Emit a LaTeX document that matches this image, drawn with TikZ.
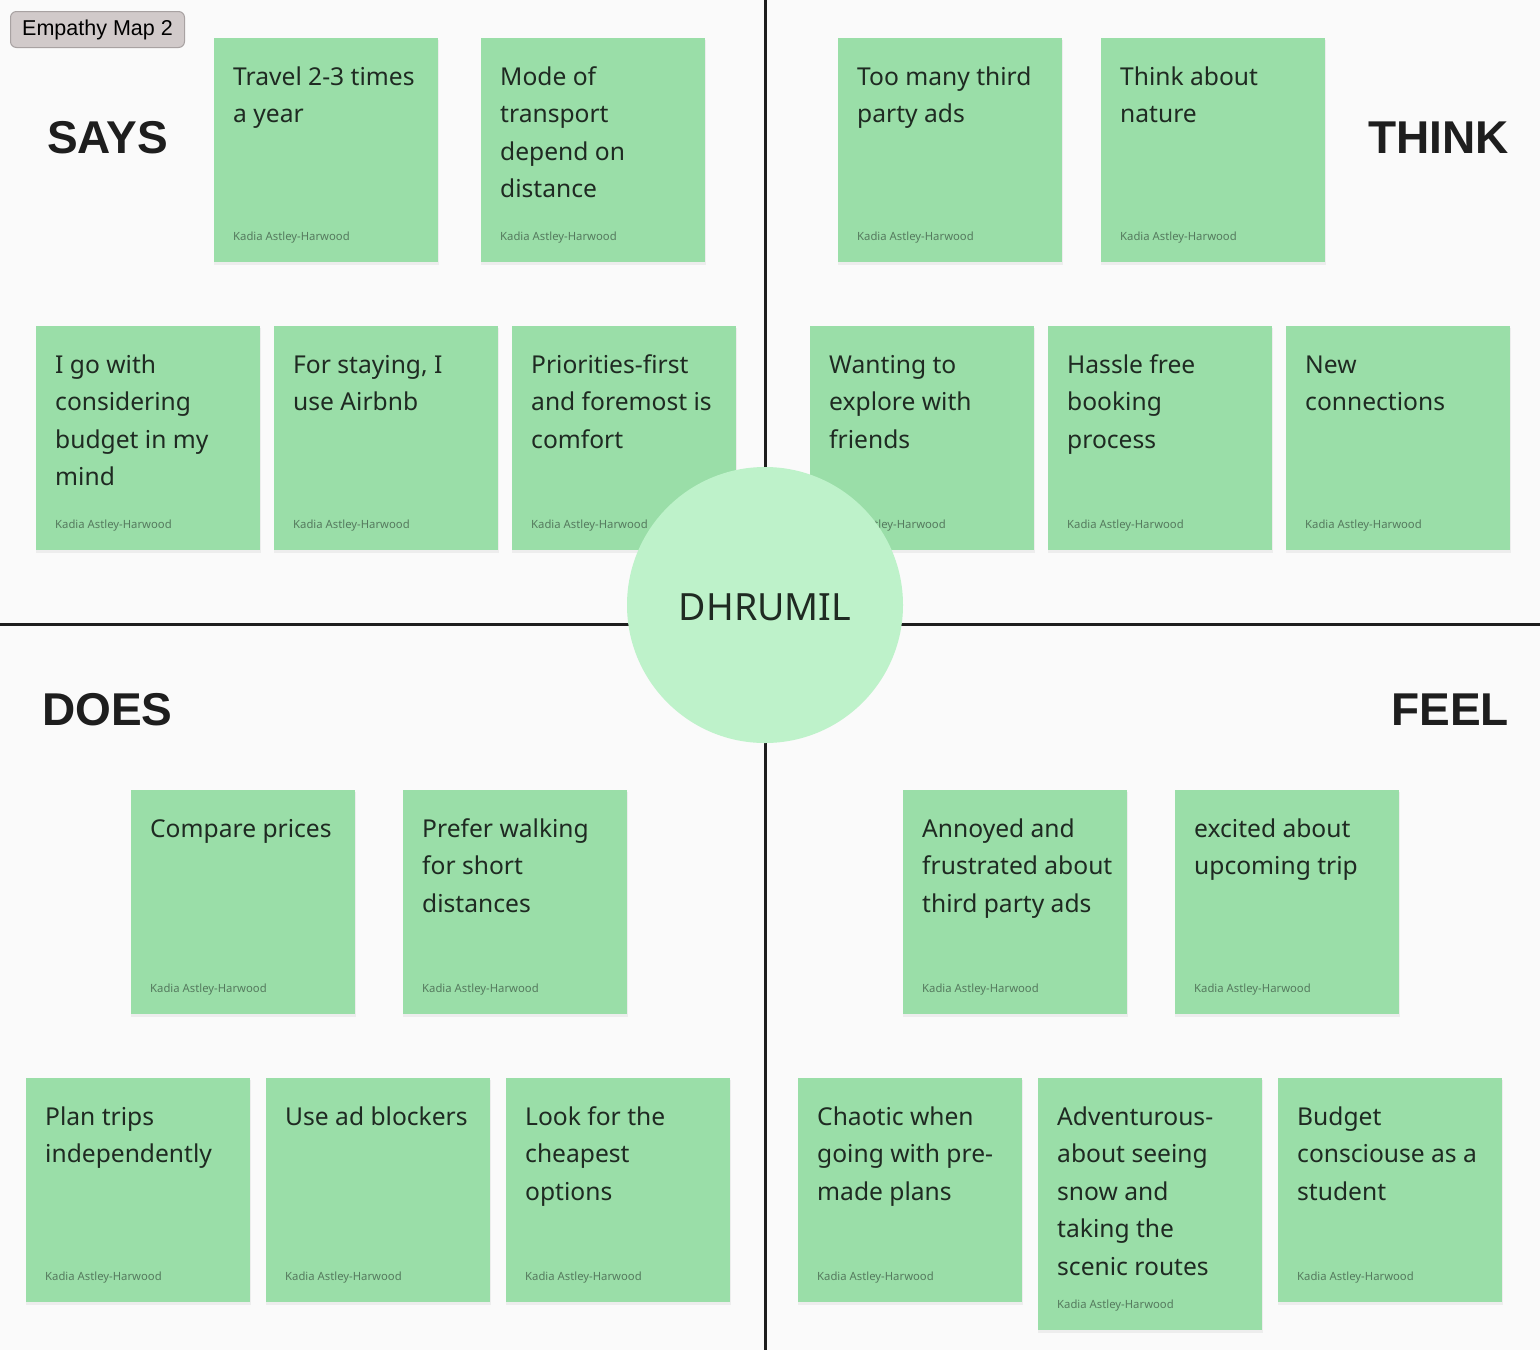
\documentclass[tikz,border=0pt]{standalone}
\usepackage{fontspec}
\setmainfont{Noto Sans}
\newfontfamily\headfont{Liberation Sans}
\usetikzlibrary{calc}
\definecolor{bgc}{HTML}{FAFAFA}
\definecolor{stickyc}{HTML}{9ADEA8}
\definecolor{circc}{HTML}{BEF2CA}
\definecolor{inkc}{HTML}{1F2A22}
\definecolor{authc}{HTML}{557A5E}
\definecolor{linec}{HTML}{1E1E1E}
\definecolor{tagfill}{HTML}{D1CACA}
\definecolor{tagline}{HTML}{A8A2A2}
\tikzset{
  stickybox/.style={fill=stickyc, draw=none, minimum width=224pt, inner sep=0pt, outer sep=0pt},
  stickyshadow/.style={fill=black, fill opacity=0.05, draw=none},
  stickytext/.style={inner sep=0pt, text=inkc},
  authortext/.style={inner sep=0pt, text=authc, font=\fontsize{11.3}{13}\selectfont},
  heading/.style={inner sep=0pt, text=linec, font=\headfont\bfseries\fontsize{46}{50}\selectfont},
  divider/.style={draw=linec, line width=3pt},
}
\newcommand\sticky[5]{%
  \fill[stickyshadow] (#2-0.5,#3+1.5) rectangle (#2+224.5,#3+#4+2.5);
  \node[stickybox, minimum height=#4 pt, anchor=north west] (#1) at (#2,#3) {};
  \node[stickytext, anchor=base west] (#1-t) at (#2+19,#3+47)
    {\parbox[t]{215pt}{\raggedright\fontsize{24.6}{37.5}\selectfont #5}};
  \node[authortext, anchor=base west] (#1-a) at (#2+19,#3+#4-22) {Kadia Astley-Harwood};
}
\begin{document}
\begin{tikzpicture}[x=1pt,y=-1pt]
\fill[bgc] (0,0) rectangle (1540,1350);
\useasboundingbox (0,0) rectangle (1540,1350);
% dividers
\coordinate (vtop) at (765.5,0);
\coordinate (vbot) at (765.5,1350);
\coordinate (hleft) at (0,624);
\coordinate (hright) at (1540,624);
\draw[divider] (vtop) -- (vbot);
\draw[divider] (hleft) -- (hright);
% tag
\node[draw=tagline, fill=tagfill, rounded corners=6pt, line width=1pt, minimum width=174pt, minimum height=36pt, inner sep=0pt, anchor=north west,
  font=\headfont\fontsize{21.5}{23}\selectfont, text=black] (tag) at (10,11) {Empathy Map 2};
% SAYS
\sticky{s1}{214}{38}{224}{Travel 2-3 times\\a year}
\sticky{s2}{481}{38}{224}{Mode of\\transport\\depend on\\distance}
\sticky{s3}{36}{326}{224}{I go with\\considering\\budget in my\\mind}
\sticky{s4}{274}{326}{224}{For staying, I\\use Airbnb}
\sticky{s5}{512}{326}{224}{Priorities-first\\and foremost is\\comfort}
% THINK
\sticky{t1}{838}{38}{224}{Too many third\\party ads}
\sticky{t2}{1101}{38}{224}{Think about\\nature}
\sticky{t3}{810}{326}{224}{Wanting to\\explore with\\friends}
\sticky{t4}{1048}{326}{224}{Hassle free\\booking\\process}
\sticky{t5}{1286}{326}{224}{New\\connections}
% DOES
\sticky{d1}{131}{790}{224}{Compare prices}
\sticky{d2}{403}{790}{224}{Prefer walking\\for short\\distances}
\sticky{d3}{26}{1078}{224}{Plan trips\\independently}
\sticky{d4}{266}{1078}{224}{Use ad blockers}
\sticky{d5}{506}{1078}{224}{Look for the\\cheapest\\options}
% FEEL
\sticky{f1}{903}{790}{224}{Annoyed and\\frustrated about\\third party ads}
\sticky{f2}{1175}{790}{224}{excited about\\upcoming trip}
\sticky{f3}{798}{1078}{224}{Chaotic when\\going with pre-\\made plans}
\sticky{f4}{1038}{1078}{252}{Adventurous-\\about seeing\\snow and\\taking the\\scenic routes}
\sticky{f5}{1278}{1078}{224}{Budget\\consciouse as a\\student}
% centre
\node[circle, fill=circc, minimum size=276pt, inner sep=0pt] (centre) at (765,605) {};
\node[inner sep=0pt, text=inkc, font=\fontsize{37.5}{40}\selectfont, anchor=base] (name) at (765,620) {DHRUMIL};
% headings
\node[heading, anchor=base west] (says) at (47,153) {SAYS};
\node[heading, anchor=base east] (think) at (1509,153) {THINK};
\node[heading, anchor=base west] (does) at (42,725) {DOES};
\node[heading, anchor=base east] (feel) at (1509,725) {FEEL};
\end{tikzpicture}
\end{document}
